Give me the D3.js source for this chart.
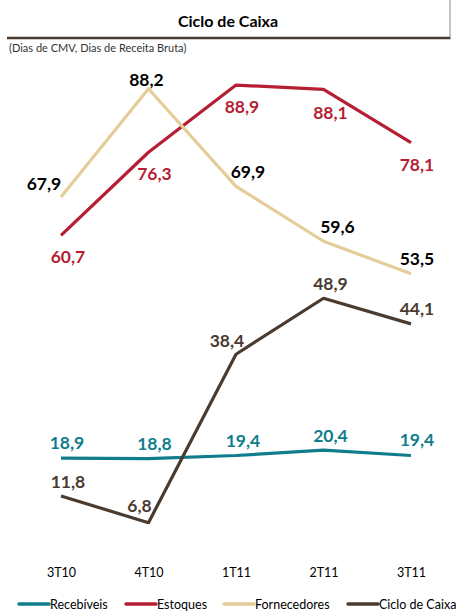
<!DOCTYPE html>
<html>
<head>
<meta charset="utf-8">
<script src="https://cdn.jsdelivr.net/npm/d3@7"></script>
<style>
  html, body { margin: 0; padding: 0; background: #fff; }
  svg { display: block; }
  text { font-family: Lato, "Open Sans", sans-serif; }
</style>
</head>
<body>
<svg id="chart" width="456" height="611"></svg>
<script>
// Quarterly periods
const categories = ["3T10", "4T10", "1T11", "2T11", "3T11"];

// Days per series
const recebiveis   = [18.9, 18.8, 19.4, 20.4, 19.4];
const estoques     = [60.7, 76.3, 88.9, 88.1, 78.1];
const fornecedores = [67.9, 88.2, 69.9, 59.6, 53.5];
const cicloCaixa   = [11.8, 6.8, 38.4, 48.9, 44.1];

const seriesNames = ["Recebíveis", "Estoques", "Fornecedores", "Ciclo de Caixa"];

const W = 456, H = 611;
const svg = d3.select("#chart");

const x = d3.scalePoint().domain(categories).range([61, 411]);
const y = d3.scaleLinear().domain([0, 100]).range([558.9, 25.9]);

// Styling per series; label offsets (dx, dy) relative to each point
const series = [
  { name: seriesNames[0], values: recebiveis, color: "#107D8C", label: "#107D8C",
    off: [[6,-9],[6,-9],[7,-8],[7,-8],[6,-9]] },
  { name: seriesNames[1], values: estoques, color: "#B51E33", label: "#B51E33",
    off: [[7,28],[6,28],[6,28],[7,30],[6,28]] },
  { name: seriesNames[2], values: fornecedores, color: "#E4CD98", label: "#000000",
    off: [[-17,-7],[-2,-3],[12,-8],[14,-8],[6,-9]] },
  { name: seriesNames[3], values: cicloCaixa, color: "#4A3B30", label: "#4A3B30",
    off: [[7,-8],[-9,-11],[-9,-7],[7,-8],[6,-9]] }
];

// Header
svg.append("text")
  .attr("x", 228).attr("y", 27)
  .attr("text-anchor", "middle")
  .attr("font-size", 16).attr("font-weight", "bold")
  .attr("fill", "#000")
  .text("Ciclo de Caixa");

svg.append("line")
  .attr("x1", 7).attr("x2", 450.5).attr("y1", 38).attr("y2", 38)
  .attr("stroke", "#4A3B30").attr("stroke-width", 2.5);

svg.append("line")
  .attr("x1", 450).attr("x2", 450).attr("y1", 0).attr("y2", 38)
  .attr("stroke", "#8a8a8a").attr("stroke-width", 1);

svg.append("text")
  .attr("x", 9).attr("y", 52)
  .attr("font-size", 11)
  .attr("fill", "#333")
  .text("(Dias de CMV, Dias de Receita Bruta)");

// Lines
const line = d3.line()
  .x((d, i) => x(categories[i]))
  .y(d => y(d));

svg.append("g")
  .selectAll("path")
  .data(series)
  .join("path")
  .attr("d", s => line(s.values))
  .attr("fill", "none")
  .attr("stroke", s => s.color)
  .attr("stroke-width", 3.2)
  .attr("stroke-linejoin", "round");

// Value labels
const fmt = v => d3.format(".1f")(v).replace(".", ",");
series.forEach(s => {
  svg.append("g")
    .selectAll("text")
    .data(s.values)
    .join("text")
    .attr("x", (d, i) => x(categories[i]) + s.off[i][0])
    .attr("y", (d, i) => y(d) + s.off[i][1])
    .attr("text-anchor", "middle")
    .attr("font-size", 17.5)
    .attr("font-weight", "bold")
    .attr("fill", s.label)
    .text(fmt);
});

// Category axis
const axis = svg.append("g")
  .attr("transform", "translate(0,568)")
  .call(d3.axisBottom(x).tickSize(0).tickPadding(0));
axis.select(".domain").remove();
axis.selectAll("text")
  .attr("dy", "0.71em")
  .attr("font-size", 12.5)
  .attr("font-family", "Lato, 'Open Sans', sans-serif")
  .attr("fill", "#000");

// Legend
const legendX = [19, 126, 224, 348];
const legend = svg.append("g")
  .selectAll("g")
  .data(series)
  .join("g")
  .attr("transform", (d, i) => `translate(${legendX[i]},604)`);

legend.append("line")
  .attr("x1", 0).attr("x2", 30).attr("y1", 0).attr("y2", 0)
  .attr("stroke", d => d.color)
  .attr("stroke-width", 3.5)
  .attr("stroke-linecap", "round");

legend.append("text")
  .attr("x", 31).attr("y", 4.5)
  .attr("font-size", 12.5)
  .attr("fill", "#000")
  .text(d => d.name);
</script>
</body>
</html>
